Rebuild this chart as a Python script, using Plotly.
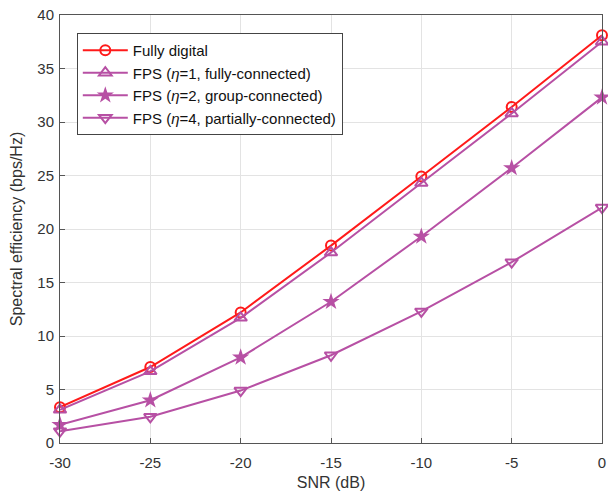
import plotly.graph_objects as go

snr = [-30, -25, -20, -15, -10, -5, 0]
snr_ticks = ["-30", "-25", "-20", "-15", "-10", "-5", "0"]
se_ticks = [0, 5, 10, 15, 20, 25, 30, 35, 40]
fully_digital = [3.35, 7.1, 12.2, 18.45, 24.9, 31.4, 38.1]
fps_eta1 = [3.1, 6.7, 11.7, 17.8, 24.3, 30.8, 37.5]
fps_eta2 = [1.7, 4.0, 8.0, 13.2, 19.3, 25.7, 32.3]
fps_eta4 = [1.1, 2.45, 4.9, 8.2, 12.3, 16.9, 22.0]

names = ["Fully digital",
         "FPS (<i>η</i>=1, fully-connected)",
         "FPS (<i>η</i>=2, group-connected)",
         "FPS (<i>η</i>=4, partially-connected)"]

red = "#FF1A1A"
purple = "#B750A4"

fig = go.Figure()
series = [
    (fully_digital, names[0], red, "circle-open", 10),
    (fps_eta1, names[1], purple, "triangle-up-open", 11),
    (fps_eta2, names[2], purple, "star", 13),
    (fps_eta4, names[3], purple, "triangle-down-open", 11),
]
for ys, nm, col, sym, sz in series:
    fig.add_trace(go.Scatter(
        x=snr, y=ys, name=nm, mode="lines+markers",
        line=dict(color=col, width=2),
        marker=dict(symbol=sym, size=sz, color=col, line=dict(color=col, width=2 if "open" in sym else 0)),
        cliponaxis=False,
    ))

axis_common = dict(
    showline=True, linecolor="#555555", linewidth=1, mirror=True,
    ticks="inside", ticklen=5, tickcolor="#555555",
    showgrid=True, gridcolor="#E3E3E3", gridwidth=1,
    zeroline=False, ticklabeloverflow="allow",
    tickfont=dict(family="Liberation Sans, Arial", size=15, color="#333333"),
)

fig.update_layout(
    width=608, height=497,
    margin=dict(l=60, r=6, t=15, b=54, autoexpand=False),
    paper_bgcolor="white", plot_bgcolor="white",
    font=dict(family="Liberation Sans, Arial", size=13, color="#222222"),
    xaxis=dict(range=[-30, 0], tickvals=snr, ticktext=snr_ticks, ticklabelstandoff=6,
               title=dict(text="SNR (dB)", font=dict(size=16, color="#333333"), standoff=6),
               **axis_common),
    yaxis=dict(range=[0, 40], tickvals=se_ticks, ticktext=[str(v) for v in se_ticks],
               ticklabelstandoff=2,
               title=dict(text="Spectral efficiency (bps/Hz)", font=dict(size=16, color="#333333"), standoff=10),
               **axis_common),
    legend=dict(x=0.031, y=0.958, xanchor="left", yanchor="top",
                bgcolor="white", bordercolor="#444444", borderwidth=1,
                font=dict(size=15, color="#111111"),
                tracegroupgap=0, itemwidth=45),
    showlegend=True,
)

fig.write_html("out.html", config={"displayModeBar": False},
               post_script="document.body.style.margin='0px';document.body.style.overflow='hidden';")
